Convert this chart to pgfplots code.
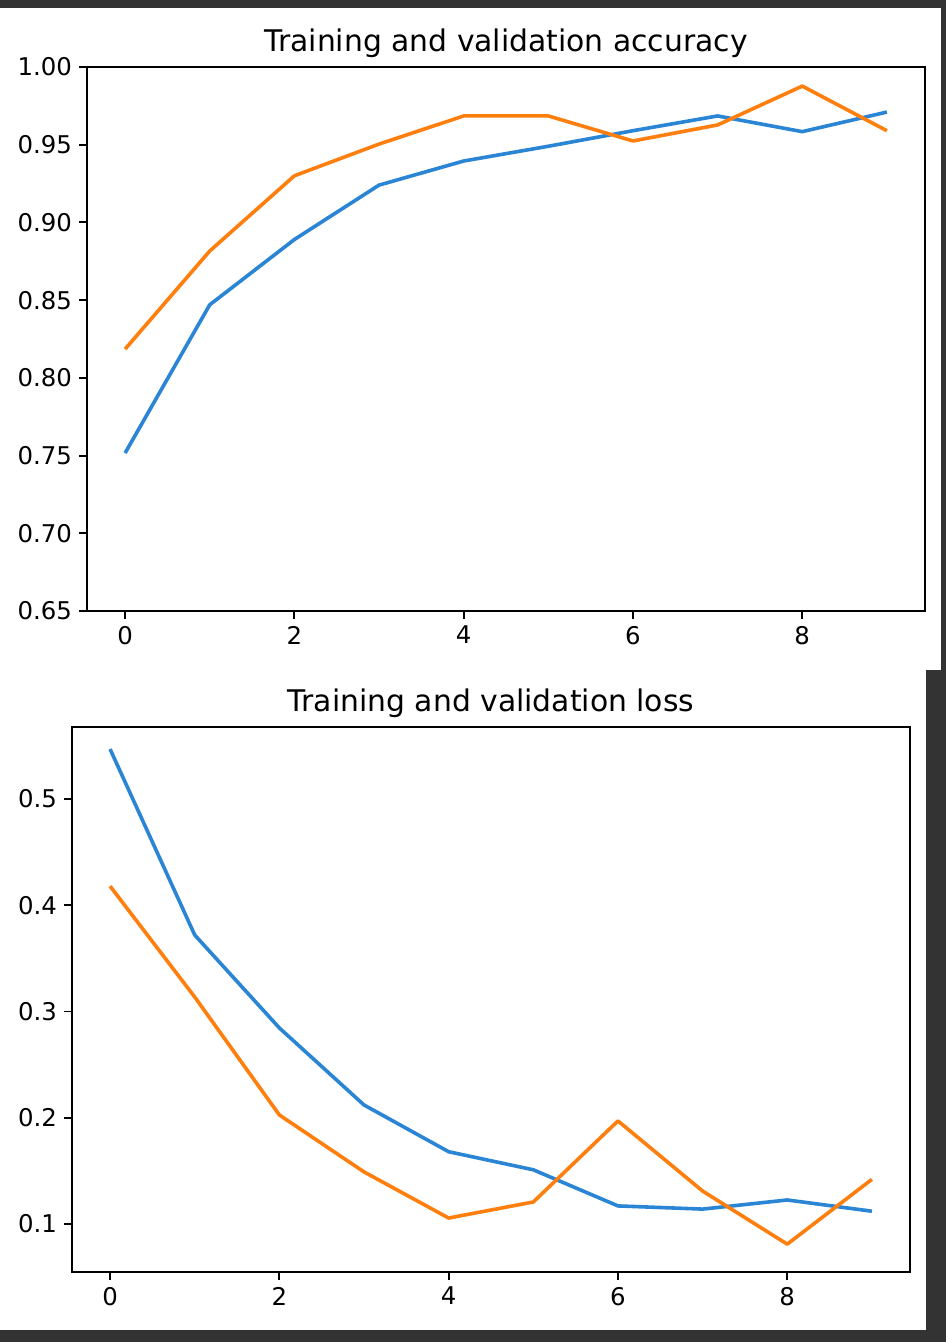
\documentclass[border=0pt]{standalone}
\usepackage{fontspec}
\setmainfont{DejaVu Sans}
\usepackage{pgfplots}
\pgfplotsset{compat=1.18}
\definecolor{mplblue}{HTML}{2A85D5}
\definecolor{mplorange}{HTML}{FF7F0E}
\definecolor{frame}{HTML}{333333}

\pgfplotsset{
  mpl/.style={
    scale only axis,
    width=419pt,
    xmin=-0.45, xmax=9.45,
    xtick={0,2,4,6,8},
    tick align=outside,
    xtick pos=bottom, ytick pos=left,
    major tick length=4pt,
    every tick/.style={black, line width=0.95pt},
    axis line style={line width=0.95pt},
    tick label style={font=\fontsize{12.2}{14}\selectfont},
    /pgf/number format/assume math mode=true,
    title style={font=\fontsize{14.9}{17}\selectfont, at={(0.5,1)}, anchor=base, yshift=1.5pt},
    every axis plot/.append style={line width=1.8pt, line join=round},
  }
}

\begin{document}
\begin{tikzpicture}
\useasboundingbox (0,0) rectangle (473pt,671pt);
\fill[frame] (0,0) rectangle (473pt,671pt);
\fill[white] (0,336pt) rectangle (470.5pt,667pt);
\fill[white] (0,6pt) rectangle (463pt,336pt);

\begin{axis}[mpl,
  at={(43.5pt,365.5pt)}, anchor=south west,
  height=272pt,
  ymin=0.65, ymax=1.00,
  ytick={0.65,0.70,...,1.001},
  yticklabel style={/pgf/number format/.cd, fixed, fixed zerofill, precision=2},
  title={Training and validation accuracy}]
\addplot[mplblue] coordinates {(0,0.7516) (1,0.847) (2,0.889) (3,0.924) (4,0.9395) (5,0.949) (6,0.959) (7,0.9685) (8,0.9584) (9,0.971)};
\addplot[mplorange] coordinates {(0,0.8185) (1,0.8816) (2,0.930) (3,0.9504) (4,0.9685) (5,0.9685) (6,0.9524) (7,0.9627) (8,0.9877) (9,0.959)};
\end{axis}

\begin{axis}[mpl,
  at={(36pt,35pt)}, anchor=south west,
  height=272.5pt,
  ymin=0.0548, ymax=0.5678,
  ytick={0.1,0.2,0.3,0.4,0.5},
  yticklabel style={/pgf/number format/.cd, fixed, fixed zerofill, precision=1},
  title={Training and validation loss}]
\addplot[mplblue] coordinates {(0,0.547) (1,0.372) (2,0.2845) (3,0.212) (4,0.168) (5,0.151) (6,0.117) (7,0.114) (8,0.1226) (9,0.112)};
\addplot[mplorange] coordinates {(0,0.418) (1,0.3136) (2,0.2026) (3,0.149) (4,0.1056) (5,0.1207) (6,0.197) (7,0.131) (8,0.081) (9,0.142)};
\end{axis}
\end{tikzpicture}
\end{document}
